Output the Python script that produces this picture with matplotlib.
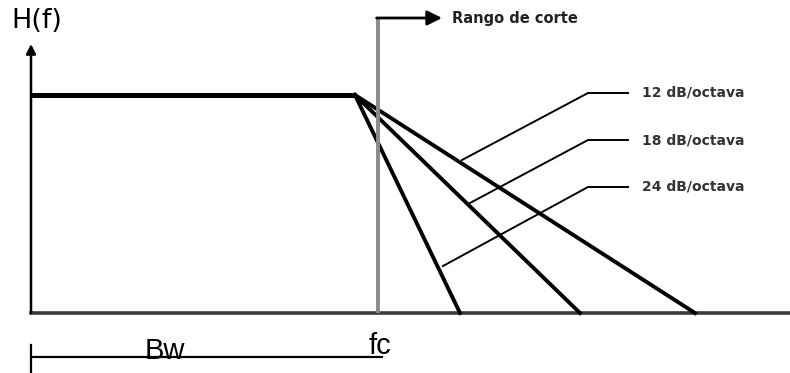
"""diagrama de filtro pasa bajos: banda de paso, fc y pendientes de corte"""

import matplotlib.pyplot as plt
import numpy as np

# coordenadas del diagrama (unidades de dibujo, y hacia abajo)
origen = (31, 313)
nivel_paso = 95
f_rodilla = 355
fc = 378
tope_fc = 18
fin_pendientes = [695, 580, 460]          # 12, 18, 24 dB/octava
etiquetas = ["12 dB/octava", "18 dB/octava", "24 dB/octava"]
etiqueta_y = [93, 140, 187]
guia_x = [588, 628]
guia_fin = [(462, 160), (470, 203), (443, 266)]
bw_y = 357

fig = plt.figure(figsize=(7.9, 3.73), dpi=100)
ax = fig.add_axes([0, 0, 1, 1])
ax.set_xlim(0, 790)
ax.set_ylim(373, 0)
ax.axis("off")

# ejes
ax.plot([origen[0], 790], [origen[1], origen[1]], color="#3a3a3a", lw=2.6)
ax.annotate("", xy=(origen[0], 44), xytext=(origen[0], origen[1]),
            arrowprops=dict(arrowstyle="-|>", color="black", lw=1.8,
                            mutation_scale=14, shrinkA=0, shrinkB=0))
ax.text(11, 21, "H(f)", fontsize=19.5, family="DejaVu Sans", va="center", ha="left")

# banda de paso
ax.plot([origen[0], f_rodilla], [nivel_paso, nivel_paso], color="black", lw=3.6,
        solid_capstyle="butt")

# pendientes
for fin in fin_pendientes:
    ax.plot([f_rodilla, fin], [nivel_paso, origen[1]], color="black", lw=2.8)

# fc y rango de corte
ax.plot([fc, fc], [origen[1], tope_fc], color="#8a8a8a", lw=2.8, solid_capstyle="butt")
ax.annotate("", xy=(442, tope_fc), xytext=(fc - 1.4, tope_fc),
            arrowprops=dict(arrowstyle="-|>", color="black", lw=2,
                            mutation_scale=22, shrinkA=0, shrinkB=0))
ax.text(452, tope_fc, "Rango de corte", fontsize=10.5, fontweight="bold",
        color="#222222", va="center", ha="left")

# etiquetas de pendiente con lineas guia
for texto, ty, (gx, gy) in zip(etiquetas, etiqueta_y, guia_fin):
    ax.plot([gx, guia_x[0], guia_x[1]], [gy, ty, ty], color="black", lw=1.4)
    ax.text(642, ty, texto, fontsize=10, fontweight="bold", color="#333333",
            va="center", ha="left")

# ancho de banda
ax.plot([origen[0], 382], [bw_y, bw_y], color="black", lw=1.6)
ax.plot([origen[0], origen[0]], [345, 373], color="black", lw=1.6)
ax.text(165, bw_y + 2, "Bw", fontsize=21, family="Liberation Sans",
        ha="center", va="baseline")
ax.text(380, bw_y - 3, "fc", fontsize=21, family="Liberation Sans",
        ha="center", va="baseline")

fig.savefig("out.png", dpi=100)
